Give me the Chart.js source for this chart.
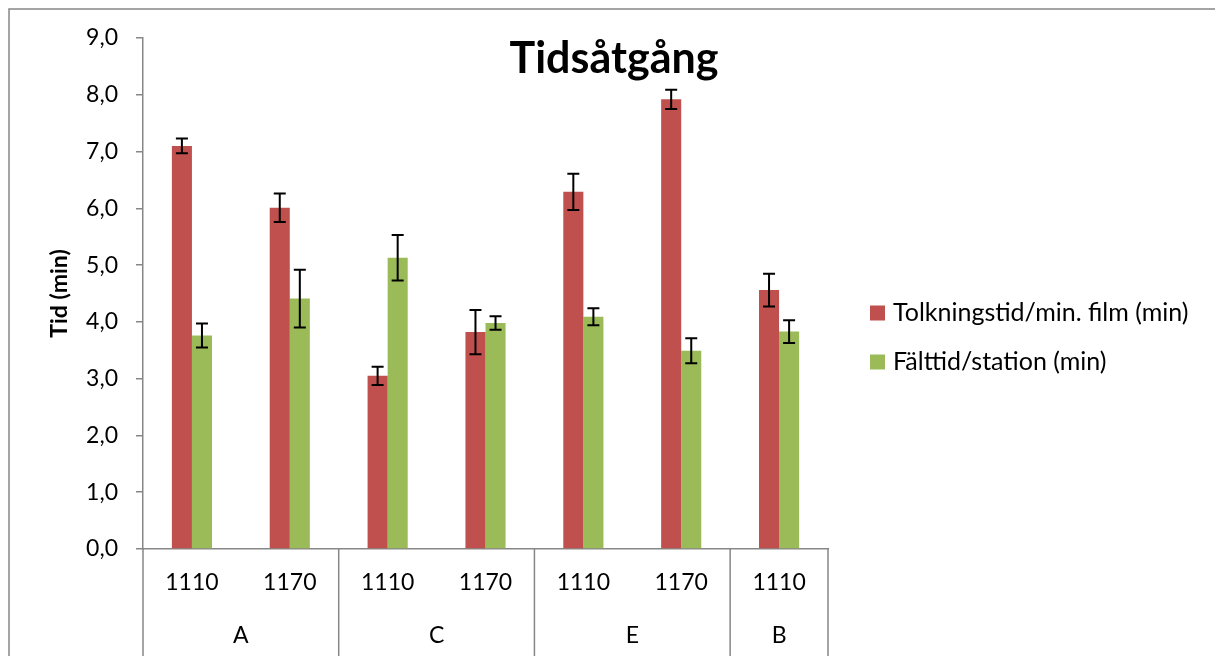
<!DOCTYPE html>
<html>
<head>
<meta charset="utf-8">
<script src="https://cdn.jsdelivr.net/npm/chart.js@4/dist/chart.umd.min.js"></script>
<style>
  html, body { margin: 0; padding: 0; background: #fff; overflow: hidden; }
  canvas { display: block; }
</style>
</head>
<body>
<canvas id="chart" width="1215" height="656"></canvas>
<script>
// Kategorier (nedre nivå) och grupper (övre nivå)
const categories = ['1110', '1170', '1110', '1170', '1110', '1170', '1110'];
const groups = ['A', 'C', 'E', 'B'];
const groupSizes = [2, 2, 2, 1];

// Tolkningstid/min. film (min) med felstaplar
const tolkning = [7.10, 6.01, 3.05, 3.82, 6.29, 7.92, 4.56];
const tolkningErr = [0.13, 0.25, 0.16, 0.39, 0.32, 0.17, 0.29];

// Fälttid/station (min) med felstaplar
const falt = [3.76, 4.41, 5.13, 3.98, 4.09, 3.49, 3.83];
const faltErr = [0.21, 0.51, 0.40, 0.12, 0.15, 0.22, 0.20];

const yTicks = [0, 1, 2, 3, 4, 5, 6, 7, 8, 9];

const FONT = 'Lato, "Open Sans", sans-serif';
const AXIS_GREY = '#878787';

// Ram, titel, grupper, felstaplar och legend ritas här
const extras = {
    id: 'extras',
    afterDatasetsDraw(chart) {
        const ctx = chart.ctx;
        const y = chart.scales.y;
        const errs = [tolkningErr, faltErr];
        ctx.save();
        ctx.strokeStyle = '#000';
        ctx.lineWidth = 2;
        chart.data.datasets.forEach((ds, di) => {
            const meta = chart.getDatasetMeta(di);
            meta.data.forEach((bar, i) => {
                const v = ds.data[i];
                const e = errs[di][i];
                const top = y.getPixelForValue(v + e);
                const bot = y.getPixelForValue(v - e);
                ctx.beginPath();
                ctx.moveTo(bar.x, top);
                ctx.lineTo(bar.x, bot);
                ctx.moveTo(bar.x - 6, top);
                ctx.lineTo(bar.x + 6, top);
                ctx.moveTo(bar.x - 6, bot);
                ctx.lineTo(bar.x + 6, bot);
                ctx.stroke();
            });
        });
        ctx.restore();
    },
    afterDraw(chart) {
        const ctx = chart.ctx;
        const area = chart.chartArea;
        const x = chart.scales.x;
        const step = (area.right - area.left) / categories.length;
        ctx.save();

        // yttre ram
        ctx.strokeStyle = AXIS_GREY;
        ctx.lineWidth = 1.5;
        ctx.strokeRect(9, 9, 1400, 900);

        // gruppavdelare och gruppetiketter
        ctx.beginPath();
        let idx = 0;
        const edges = [area.left];
        groups.forEach((g, gi) => {
            const start = x.getPixelForValue(idx) - step / 2;
            idx += groupSizes[gi];
            const end = x.getPixelForValue(idx - 1) + step / 2;
            edges.push(end);
            ctx.fillStyle = '#000';
            ctx.font = '23px ' + FONT;
            ctx.textAlign = 'center';
            ctx.textBaseline = 'middle';
            ctx.fillText(g, (start + end) / 2, 636);
        });
        edges.forEach(ex => {
            ctx.moveTo(ex, area.bottom);
            ctx.lineTo(ex, chart.height);
        });
        ctx.stroke();

        // titel
        ctx.fillStyle = '#000';
        ctx.font = 'bold 43px ' + FONT;
        ctx.textAlign = 'center';
        ctx.textBaseline = 'alphabetic';
        ctx.fillText('Tidsåtgång', 614, 73);

        // legend
        ctx.font = '25px ' + FONT;
        ctx.textAlign = 'left';
        ctx.textBaseline = 'middle';
        const rows = [313, 362];
        chart.data.datasets.forEach((ds, di) => {
            ctx.fillStyle = ds.backgroundColor;
            ctx.fillRect(870, rows[di] - 7.5, 15, 15);
            ctx.fillStyle = '#000';
            ctx.fillText(ds.label, 893, rows[di]);
        });
        ctx.restore();
    }
};

new Chart(document.getElementById('chart'), {
    type: 'bar',
    data: {
        labels: categories,
        datasets: [
            {
                label: 'Tolkningstid/min. film (min)',
                data: tolkning,
                backgroundColor: '#C0504D'
            },
            {
                label: 'Fälttid/station (min)',
                data: falt,
                backgroundColor: '#9BBB59'
            }
        ]
    },
    options: {
        responsive: false,
        animation: false,
        devicePixelRatio: 1,
        categoryPercentage: 0.41,
        barPercentage: 1.0,
        layout: { padding: { left: 10, top: 38, right: 387, bottom: 0 } },
        plugins: {
            legend: { display: false },
            title: { display: false },
            tooltip: { enabled: false }
        },
        scales: {
            x: {
                grid: { display: false, drawTicks: false },
                border: { color: AXIS_GREY, width: 1.5 },
                ticks: { color: '#000', font: { family: FONT, size: 23 }, padding: 20, maxRotation: 0, autoSkip: false },
                afterFit(scale) { scale.height = 107; }
            },
            y: {
                min: 0,
                max: 9,
                afterBuildTicks(scale) { scale.ticks = yTicks.map(v => ({ value: v })); },
                grid: { drawOnChartArea: false, drawTicks: true, tickLength: 7, color: AXIS_GREY, lineWidth: 1.5 },
                border: { color: AXIS_GREY, width: 1.5 },
                ticks: {
                    color: '#000',
                    font: { family: FONT, size: 23 },
                    padding: 18,
                    callback: v => v.toFixed(1).replace('.', ',')
                },
                title: {
                    display: true,
                    text: 'Tid (min)',
                    color: '#000',
                    font: { family: FONT, size: 23, weight: 'bold' },
                    padding: { top: 36, bottom: 0 }
                },
                afterFit(scale) { scale.width = 133; }
            }
        }
    },
    plugins: [extras]
});
</script>
</body>
</html>
